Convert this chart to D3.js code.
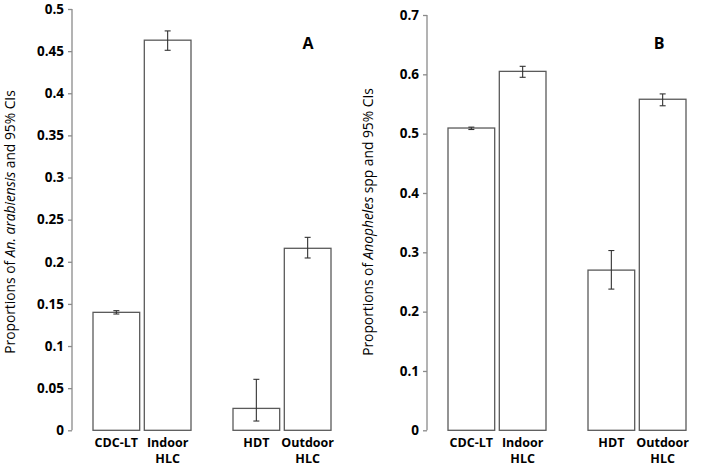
<!DOCTYPE html>
<html><head><meta charset="utf-8">
<script src="https://cdn.jsdelivr.net/npm/d3@7"></script>
<style>body{margin:0;background:#fff}svg{display:block}</style>
</head><body>
<svg id="c" width="709" height="468"></svg>
<script>
// Data
const groups = ["g1", "g2"];
const categories = [["CDC-LT", "Indoor HLC"], ["HDT", "Outdoor HLC"]];
const catLabels = [["CDC-LT"], ["Indoor", "HLC"], ["HDT"], ["Outdoor", "HLC"]];
const valuesA = [0.140, 0.463, 0.026, 0.216];
const lowA = [0.138, 0.451, 0.011, 0.2045];
const highA = [0.142, 0.474, 0.0605, 0.229];
const valuesB = [0.5095, 0.605, 0.270, 0.558];
const lowB = [0.507, 0.595, 0.238, 0.547];
const highB = [0.511, 0.6135, 0.303, 0.567];
const ticksA = [0, 0.05, 0.1, 0.15, 0.2, 0.25, 0.3, 0.35, 0.4, 0.45, 0.5];
const ticksB = [0, 0.1, 0.2, 0.3, 0.4, 0.5, 0.6, 0.7];

const svg = d3.select("#c");
const FONT = "'Open Sans', 'Noto Sans', sans-serif";

function panel(opts) {
  const g = svg.append("g");
  const y = d3.scaleLinear().domain([0, opts.ymax]).range([430.3, opts.ytop]);
  const xg = d3.scaleBand().domain(groups).range([opts.x0, opts.x0 + 280]).padding(0);
  const xi = d3.scaleBand().domain([0, 1]).range([21, 119]).paddingInner(0.09).paddingOuter(0);

  // y axis
  const ax = d3.axisLeft(y).tickValues(opts.ticks).tickSize(4).tickPadding(4)
    .tickFormat(d => d === 0 ? "0" : String(+d.toFixed(2)));
  const axg = g.append("g").attr("transform", `translate(${opts.x0},0)`).call(ax);
  axg.select(".domain").attr("stroke", "#8a8a8a").attr("stroke-width", 1.3)
    .attr("d", `M0,${y(0)}V${y(opts.ymax)}`);
  axg.selectAll(".tick line").attr("stroke", "#8a8a8a").attr("stroke-width", 1.3);
  axg.selectAll(".tick text").attr("font-family", FONT).attr("font-weight", "bold")
    .attr("font-size", 13.5).attr("fill", "#000");

  const data = [];
  groups.forEach((gr, gi) => {
    [0, 1].forEach(j => {
      const k = gi * 2 + j;
      data.push({x: xg(gr) + xi(j), w: xi.bandwidth(), v: opts.values[k], lo: opts.low[k], hi: opts.high[k], lab: catLabels[k]});
    });
  });

  g.selectAll("rect.bar").data(data).join("rect").attr("class", "bar")
    .attr("x", d => d.x).attr("y", d => y(d.v)).attr("width", d => d.w)
    .attr("height", d => y(0) - y(d.v))
    .attr("fill", "#fff").attr("stroke", "#5a5a5a").attr("stroke-width", 1.3);

  // error bars
  const eb = g.selectAll("g.eb").data(data).join("g").attr("class", "eb")
    .attr("stroke", "#333").attr("stroke-width", 1.1);
  eb.append("line").attr("x1", d => d.x + d.w / 2).attr("x2", d => d.x + d.w / 2)
    .attr("y1", d => y(d.lo)).attr("y2", d => y(d.hi));
  eb.append("line").attr("x1", d => d.x + d.w / 2 - 3).attr("x2", d => d.x + d.w / 2 + 3)
    .attr("y1", d => y(d.lo)).attr("y2", d => y(d.lo));
  eb.append("line").attr("x1", d => d.x + d.w / 2 - 3).attr("x2", d => d.x + d.w / 2 + 3)
    .attr("y1", d => y(d.hi)).attr("y2", d => y(d.hi));

  // category labels
  const tl = g.selectAll("text.cat").data(data).join("text").attr("class", "cat")
    .attr("x", d => d.x + d.w / 2).attr("y", 447)
    .attr("text-anchor", "middle").attr("font-family", FONT).attr("font-weight", "bold")
    .attr("font-size", 12.5).attr("fill", "#000");
  tl.selectAll("tspan").data(d => d.lab.map((t, i) => ({t, i, x: d.x + d.w / 2}))).join("tspan")
    .attr("x", d => d.x).attr("dy", d => d.i === 0 ? 0 : 15.5).text(d => d.t);

  // panel letter
  g.append("text").attr("x", opts.letterX).attr("y", 49).attr("text-anchor", "middle")
    .attr("font-family", FONT).attr("font-weight", "bold").attr("font-size", 16).text(opts.letter);

  // y label
  const yl = g.append("text").attr("transform", `translate(${opts.labelX},222) rotate(-90)`)
    .attr("text-anchor", "middle").attr("font-family", FONT).attr("font-size", 13.8).attr("fill", "#000");
  opts.ylabel.forEach(p => yl.append("tspan").attr("font-style", p[1] ? "italic" : "normal").text(p[0]));
}

panel({x0: 72, ymax: 0.5, ytop: 9, ticks: ticksA, values: valuesA, low: lowA, high: highA,
  letter: "A", letterX: 308, labelX: 15,
  ylabel: [["Proportions of ", false], ["An. arabiensis", true], [" and 95% CIs", false]]});
panel({x0: 427, ymax: 0.7, ytop: 15, ticks: ticksB, values: valuesB, low: lowB, high: highB,
  letter: "B", letterX: 659, labelX: 373,
  ylabel: [["Proportions of ", false], ["Anopheles", true], [" spp and 95% CIs", false]]});
</script>
</body></html>
